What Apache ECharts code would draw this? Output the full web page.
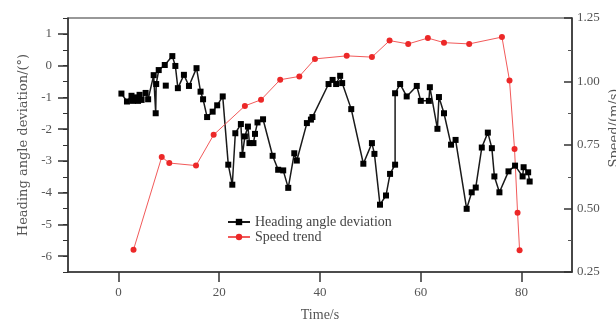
<!DOCTYPE html>
<html><head><meta charset="utf-8">
<script src="https://cdn.jsdelivr.net/npm/echarts@6/dist/echarts.min.js"></script>
<style>html,body{margin:0;padding:0;background:#fff}#c{width:616px;height:320px}</style>
</head><body><div id="c"></div>
<script>
const headingTime = [0.6,1.7,2.6,2.9,3.4,3.9,4.2,4.6,5.4,5.9,7.0,7.4,7.5,8.0,9.2,10.7,11.3,11.8,13.0,14.0,15.5,16.3,16.8,17.6,18.7,19.6,20.7,21.8,22.6,23.2,24.3,24.6,25.1,25.7,26.0,26.8,27.1,27.6,28.7,30.6,31.7,32.7,33.7,34.9,35.4,37.4,38.2,38.5,41.7,42.5,43.2,44.0,44.4,46.2,48.6,50.3,50.8,51.9,53.1,53.9,54.9,54.9,55.9,57.2,59.2,60.0,61.6,61.8,63.3,63.6,64.6,66.0,66.9,69.1,70.1,70.9,72.1,73.3,74.1,74.6,75.6,77.4,78.7,80.2,80.4,81.3,81.6];
const headingValue = [-0.88,-1.13,-0.95,-1.11,-1.0,-1.11,-0.92,-1.08,-0.86,-1.06,-0.3,-1.5,-0.58,-0.14,0.02,0.30,-0.01,-0.71,-0.29,-0.64,-0.08,-0.82,-1.06,-1.62,-1.45,-1.25,-0.97,-3.12,-3.75,-2.13,-1.84,-2.81,-2.23,-1.92,-2.44,-2.44,-2.15,-1.79,-1.69,-2.84,-3.28,-3.30,-3.85,-2.76,-2.99,-1.81,-1.70,-1.62,-0.58,-0.45,-0.58,-0.32,-0.55,-1.37,-3.09,-2.44,-2.78,-4.38,-4.09,-3.41,-3.12,-0.87,-0.58,-0.97,-0.64,-1.11,-1.11,-0.68,-1.99,-0.99,-1.50,-2.49,-2.34,-4.51,-3.99,-3.84,-2.58,-2.11,-2.60,-3.49,-3.99,-3.33,-3.15,-3.49,-3.20,-3.36,-3.65];
const isolatedTime = [9.4];
const isolatedValue = [-0.63];
const speedTime = [3.0,8.6,10.1,15.4,18.9,25.1,28.3,32.1,35.9,39.0,45.3,50.3,53.8,57.5,61.4,64.6,69.6,76.1,77.6,78.6,79.2,79.6];
const speedValue = [0.338,0.703,0.679,0.669,0.790,0.904,0.928,1.007,1.020,1.089,1.101,1.096,1.161,1.148,1.171,1.153,1.148,1.175,1.004,0.734,0.483,0.336];
const xTicks = [0,20,40,60,80];
const leftTicks = [-6,-5,-4,-3,-2,-1,0,1];
const seriesNames = ['Heading angle deviation','Speed trend'];

const pair = (a,b) => a.map((v,i)=>[v,b[i]]);
const FONT = 'Liberation Serif';
const GREY = '#555';

const chart = echarts.init(document.getElementById('c'), null, {renderer:'canvas'});
chart.setOption({
  animation:false,
  backgroundColor:'#fff',
  grid:{left:68,right:44,top:18,bottom:48,containLabel:false,outerBoundsMode:'none',show:true,borderColor:'#333',borderWidth:1.2,backgroundColor:'transparent'},
  legend:{
    data:seriesNames, orient:'vertical', left:222, top:210, itemWidth:22, itemHeight:8, itemGap:1,
    textStyle:{fontFamily:FONT,fontSize:14,color:'#444',lineHeight:14}
  },
  xAxis:{
    type:'value', min:-10, max:90, interval:10,
    name:'Time/s', nameLocation:'middle', nameGap:36,
    nameTextStyle:{fontFamily:FONT,fontSize:14,color:GREY},
    axisLine:{show:true,onZero:false,lineStyle:{color:'#333',width:1.5}},
    axisTick:{show:true,length:10,inside:false,customValues:xTicks,lineStyle:{color:'#333',width:1.5}},
    axisLabel:{customValues:xTicks,fontFamily:FONT,fontSize:13,color:GREY,margin:14},
    splitLine:{show:false}
  },
  yAxis:[
    {
      type:'value', min:-6.5, max:1.5, interval:0.5, position:'left',
      name:'Heading angle deviation/(°)', nameLocation:'middle', nameGap:34, nameRotate:90,
      nameTextStyle:{fontFamily:'DejaVu Serif',fontSize:13,color:GREY},
      axisLine:{show:true,onZero:false,lineStyle:{color:'#333',width:1.5}},
      axisTick:{show:true,length:5,inside:false,lineStyle:{color:'#333',width:1}},
      axisLabel:{customValues:leftTicks,fontFamily:FONT,fontSize:13,color:GREY,margin:16},
      splitLine:{show:false}
    },
    {
      type:'value', min:0.25, max:1.25, interval:0.25, position:'right',
      axisLine:{show:true,onZero:false,lineStyle:{color:'#333',width:1.5}},
      axisTick:{show:true,length:8,inside:true,lineStyle:{color:'#333',width:1.5}},
      minorTick:{show:true,splitNumber:2,length:4,lineStyle:{color:'#555',width:1}},
      axisLabel:{fontFamily:FONT,fontSize:13,color:GREY,margin:5,formatter:v=>v.toFixed(2)},
      splitLine:{show:false}, minorSplitLine:{show:false}
    },
    {
      type:'value', min:-6.5, max:1.5, interval:0.5, position:'left',
      axisLine:{show:false,onZero:false},
      axisTick:{show:true,length:10,inside:false,customValues:leftTicks,lineStyle:{color:'#333',width:1.5}},
      axisLabel:{show:false},
      splitLine:{show:false}
    }
  ],
  graphic:[{
    type:'text', x:615, y:128, rotation:Math.PI/2,
    style:{text:'Speed/(m/s)',font:'13px "DejaVu Serif"',fill:GREY,align:'center',verticalAlign:'middle'}
  }],
  series:[
    {
      name:seriesNames[0], type:'line', yAxisIndex:0, data:pair(headingTime,headingValue),
      symbol:'rect', symbolSize:6, showAllSymbol:true,
      lineStyle:{color:'#1a1a1a',width:1.5}, itemStyle:{color:'#000'}
    },
    {
      name:seriesNames[0], type:'line', yAxisIndex:0, data:pair(isolatedTime,isolatedValue),
      symbol:'rect', symbolSize:6, lineStyle:{width:0}, itemStyle:{color:'#000'}
    },
    {
      name:seriesNames[1], type:'line', yAxisIndex:1, data:pair(speedTime,speedValue),
      symbol:'circle', symbolSize:6, showAllSymbol:true,
      lineStyle:{color:'#f25a5a',width:1}, itemStyle:{color:'#ec2828'}
    }
  ]
});
</script></body></html>
